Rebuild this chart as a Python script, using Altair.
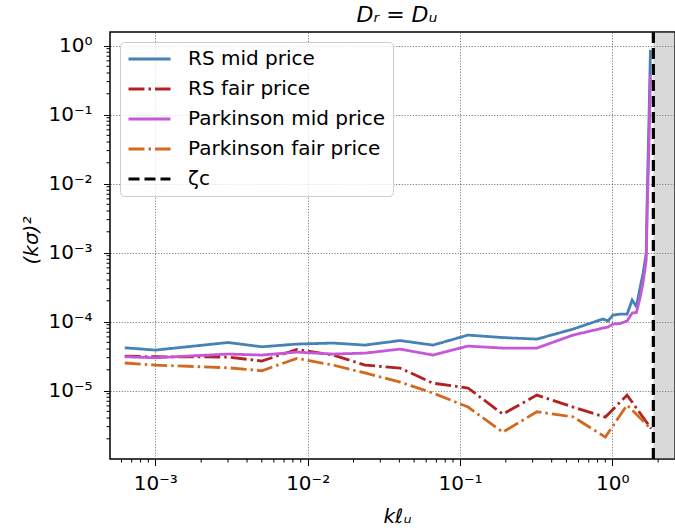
import altair as alt
import pandas as pd

# ---------------- data ----------------
mid_k = [6.3e-4, 1.0e-3, 3.0e-3, 5.0e-3, 8.5e-3, 1.47e-2, 2.38e-2, 4.04e-2, 6.65e-2,
         0.113, 0.191, 0.320, 0.552, 0.869, 0.937, 1.01, 1.12, 1.25, 1.35, 1.44,
         1.52, 1.59, 1.67, 1.70, 1.74, 1.78]
rs_mid = [4.17e-5, 3.86e-5, 4.97e-5, 4.31e-5, 4.72e-5, 4.88e-5, 4.56e-5, 5.31e-5, 4.56e-5,
          6.37e-5, 5.86e-5, 5.57e-5, 7.78e-5, 1.09e-4, 1.02e-4, 1.24e-4, 1.28e-4, 1.28e-4,
          2.05e-4, 1.65e-4, 3.06e-4, 4.9e-4, 9.8e-4, 8.9e-3, 8.3e-2, 0.86]
park_mid = [3.09e-5, 2.99e-5, 3.38e-5, 3.27e-5, 3.61e-5, 3.38e-5, 3.49e-5, 3.99e-5, 3.27e-5,
            4.41e-5, 4.13e-5, 4.13e-5, 6.37e-5, 8.05e-5, 8.32e-5, 9.2e-5, 9.35e-5, 1.02e-4,
            1.33e-4, 1.35e-4, 2.19e-4, 3.6e-4, 7.8e-4, 5.7e-3, 3.4e-2, 0.37]

fair_k = [6.3e-4, 1.0e-3, 3.0e-3, 5.0e-3, 8.5e-3, 1.47e-2, 2.38e-2, 4.04e-2, 6.65e-2,
          0.113, 0.191, 0.320, 0.552, 0.90, 1.25, 1.80]
rs_fair = [3.16e-5, 3.09e-5, 3.06e-5, 2.68e-5, 3.95e-5, 3.27e-5, 2.34e-5, 2.12e-5, 1.28e-5,
           1.09e-5, 4.56e-6, 8.61e-6, 5.77e-6, 4.13e-6, 8.61e-6, 2.81e-6]
park_fair = [2.51e-5, 2.34e-5, 2.14e-5, 1.94e-5, 2.93e-5, 2.34e-5, 1.80e-5, 1.33e-5, 9.2e-6,
             5.77e-6, 2.5e-6, 4.93e-6, 4.17e-6, 2.12e-6, 6.17e-6, 2.77e-6]

zeta_c = 1.86

x_domain = [5.04e-4, 2.58]
y_domain = [1.02e-6, 1.57]

x_major = [1e-3, 1e-2, 1e-1, 1e0]
x_major_labels = ["10⁻³", "10⁻²", "10⁻¹", "10⁰"]
y_major = [1e-5, 1e-4, 1e-3, 1e-2, 1e-1, 1e0]
y_major_labels = ["10⁻⁵", "10⁻⁴", "10⁻³", "10⁻²", "10⁻¹", "10⁰"]

x_minor = [6e-4, 7e-4, 8e-4, 9e-4,
           2e-3, 3e-3, 4e-3, 5e-3, 6e-3, 7e-3, 8e-3, 9e-3,
           2e-2, 3e-2, 4e-2, 5e-2, 6e-2, 7e-2, 8e-2, 9e-2,
           2e-1, 3e-1, 4e-1, 5e-1, 6e-1, 7e-1, 8e-1, 9e-1,
           2.0]
y_minor = [2e-6, 3e-6, 4e-6, 5e-6, 6e-6, 7e-6, 8e-6, 9e-6,
           2e-5, 3e-5, 4e-5, 5e-5, 6e-5, 7e-5, 8e-5, 9e-5,
           2e-4, 3e-4, 4e-4, 5e-4, 6e-4, 7e-4, 8e-4, 9e-4,
           2e-3, 3e-3, 4e-3, 5e-3, 6e-3, 7e-3, 8e-3, 9e-3,
           2e-2, 3e-2, 4e-2, 5e-2, 6e-2, 7e-2, 8e-2, 9e-2,
           2e-1, 3e-1, 4e-1, 5e-1, 6e-1, 7e-1, 8e-1, 9e-1]

series_names = ["RS mid price", "RS fair price", "Parkinson mid price",
                "Parkinson fair price", "ζc"]
series_colors = ["#4682b4", "#b22222", "#c657d8", "#d2691e", "#000000"]
series_dashes = [[1, 0], [16, 4, 2.5, 4], [1, 0], [16, 4, 2.5, 4], [11, 5]]

title_text = "Dᵣ = Dᵤ"

# ---------------- tables ----------------
rows = []
for name, ks, vs in [("RS mid price", mid_k, rs_mid),
                     ("RS fair price", fair_k, rs_fair),
                     ("Parkinson mid price", mid_k, park_mid),
                     ("Parkinson fair price", fair_k, park_fair)]:
    for i, (k, v) in enumerate(zip(ks, vs)):
        rows.append({"k": k, "v": v, "series": name, "i": i})
df_lines = pd.DataFrame(rows)
df_crit = pd.DataFrame({"k": [zeta_c, zeta_c], "v": y_domain,
                        "series": ["ζc", "ζc"], "i": [0, 1]})
df_shade = pd.DataFrame({"k": [zeta_c], "k2": [x_domain[1]]})
df_xminor = pd.DataFrame({"k": x_minor})
df_yminor = pd.DataFrame({"v": y_minor})

W, H = 565, 427
FONT = "DejaVu Sans"


def label_expr(values, labels):
    parts = [f"datum.value == {v} ? '{l}'" for v, l in zip(values, labels)]
    return " : ".join(parts) + " : ''"


xscale = alt.Scale(type="log", domain=x_domain, nice=False)
yscale = alt.Scale(type="log", domain=y_domain, nice=False)

xaxis = alt.Axis(values=x_major, labelExpr=label_expr(x_major, x_major_labels),
                 title="kℓᵤ", titleFontStyle="italic", titleFontWeight="normal",
                 titleFontSize=20, titleX=287, titleY=63, titleBaseline="alphabetic",
                 titleAlign="center", labelFontSize=20, labelPadding=8, tickSize=6.5,
                 labelFlush=False, labelOverlap=False)
yaxis = alt.Axis(values=y_major, labelExpr=label_expr(y_major, y_major_labels),
                 title="(kσ)²", titleFontStyle="italic", titleFontWeight="normal",
                 titleFontSize=20, titleX=-73, titleY=208, titleBaseline="alphabetic",
                 titleAlign="center", titleAngle=270, labelFontSize=20,
                 labelPadding=11.5, tickSize=6.5, labelFlush=False, labelOverlap=False)

legend = alt.Legend(title=None, orient="none", legendX=10, legendY=10,
                    symbolType="stroke", symbolSize=1764, symbolStrokeWidth=2.8,
                    clipHeight=20,
                    labelFontSize=20, labelFont=FONT, labelLimit=400, labelOffset=16,
                    rowPadding=10, padding=7, fillColor="rgba(255,255,255,0.8)",
                    strokeColor="#cccccc", cornerRadius=4)

color_enc = alt.Color("series:N", scale=alt.Scale(domain=series_names, range=series_colors),
                      legend=legend)
dash_enc = alt.StrokeDash("series:N", scale=alt.Scale(domain=series_names, range=series_dashes),
                          legend=legend)

lines = alt.Chart(df_lines).mark_line(strokeWidth=2.8, clip=True).encode(
    x=alt.X("k:Q", scale=xscale, axis=xaxis),
    y=alt.Y("v:Q", scale=yscale, axis=yaxis),
    color=color_enc,
    strokeDash=dash_enc,
    order=alt.Order("i:Q"),
)

shade = alt.Chart(df_shade).mark_rect(color="gray", opacity=0.3, clip=True).encode(
    x=alt.X("k:Q", scale=xscale),
    x2="k2:Q",
    y=alt.value(0),
    y2=alt.value(H),
)

crit = alt.Chart(df_crit).mark_line(strokeWidth=3.2, clip=True).encode(
    x=alt.X("k:Q", scale=xscale),
    y=alt.Y("v:Q", scale=yscale),
    color=color_enc,
    strokeDash=dash_enc,
    order=alt.Order("i:Q"),
)

xminor = alt.Chart(df_xminor).mark_rule(color="black", strokeWidth=1).encode(
    x=alt.X("k:Q", scale=xscale),
    y=alt.value(H),
    y2=alt.value(H + 3.5),
)
yminor = alt.Chart(df_yminor).mark_rule(color="black", strokeWidth=1).encode(
    y=alt.Y("v:Q", scale=yscale),
    x=alt.value(0),
    x2=alt.value(-3.5),
)

chart = alt.layer(lines, shade, crit, xminor, yminor).properties(
    width=W, height=H,
    autosize=alt.AutoSizeParams(type="none"),
    padding={"left": 110, "top": 32, "right": 0, "bottom": 73},
    title=alt.TitleParams(title_text, fontSize=22, font=FONT, fontStyle="italic",
                          fontWeight="normal", anchor="middle", offset=5,
                          dx=4.5, color="black"),
).configure(font=FONT).configure_title(
    fontSize=22, fontStyle="italic", fontWeight="normal", font=FONT, color="black"
).configure_view(
    stroke="black", strokeWidth=1.5
).configure_axis(
    domain=False, tickColor="black", tickWidth=1, labelColor="black",
    titleColor="black", labelFont=FONT, titleFont=FONT,
    grid=True, gridColor="#333333", gridDash=[1.2, 1.6], gridWidth=0.8, gridOpacity=0.8,
)

chart.save("out.html", embed_options={"renderer": "svg", "actions": False})
